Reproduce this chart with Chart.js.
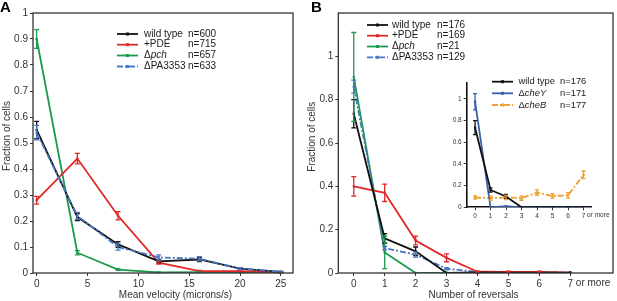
<!DOCTYPE html>
<html>
<head>
<meta charset="utf-8">
<script src="https://cdn.jsdelivr.net/npm/chart.js@4.4.0/dist/chart.umd.min.js"></script>
<style>
  body { margin: 0; background: #fff; width: 617px; height: 301px; position: relative; overflow: hidden; }
  canvas { position: absolute; }
  #chart-a { left: 0; top: 0; }
  #chart-b { left: 305px; top: 0; }
  #chart-inset { left: 440px; top: 70px; }
</style>
</head>
<body>
<canvas id="chart-a" width="305" height="301"></canvas>
<canvas id="chart-b" width="312" height="301"></canvas>
<canvas id="chart-inset" width="177" height="155"></canvas>
<script>
// ---- Panel A: mean velocity ----
const velX = [0, 4, 8, 12, 16, 20, 24];
const velTickVals = [0, 5, 10, 15, 20, 24];
const velTickLabels = ['0', '5', '10', '15', '20', '25'];
const fracTicksA = [0, 0.1, 0.2, 0.3, 0.4, 0.5, 0.6, 0.7, 0.8, 0.9, 1];
const fracLabelsA = ['0', '0.1', '0.2', '0.3', '0.4', '0.5', '0.6', '0.7', '0.8', '0.9', '1'];

const wtA = [0.55, 0.215, 0.11, 0.045, 0.052, 0.017, 0.004];
const wtAErr = [0.033, 0.013, 0.011, 0.007, 0.008, 0.004, 0.002];
const pdeA = [0.28, 0.44, 0.22, 0.04, 0.007, 0.007, 0.003];
const pdeAErr = [0.015, 0.02, 0.016, 0.006, 0.003, 0.003, 0.002];
const pchA = [0.90, 0.078, 0.013, 0.002, 0.003, 0.001, 0.0];
const pchAErr = [0.036, 0.008, 0.003, 0.001, 0.001, 0, 0];
const paA = [0.54, 0.22, 0.10, 0.06, 0.055, 0.017, 0.004];
const paAErr = [0.028, 0.013, 0.012, 0.01, 0.008, 0.004, 0.002];
const namesA = ['wild type', '+PDE', 'Δpch', 'ΔPA3353'];
const countsA = ['n=600', 'n=715', 'n=657', 'n=633'];

// ---- Panel B: number of reversals ----
const revX = [0, 1, 2, 3, 4, 5, 6, 7];
const revTickLabels = ['0', '1', '2', '3', '4', '5', '6', '7'];
const fracTicksB = [0, 0.2, 0.4, 0.6, 0.8, 1];
const fracLabelsB = ['0', '0.2', '0.4', '0.6', '0.8', '1'];

const wtB = [0.735, 0.16, 0.10, 0.0, 0.003, 0.002, 0.002, 0.002];
const wtBErr = [0.065, 0.022, 0.02, 0, 0.002, 0, 0, 0];
const pdeB = [0.40, 0.37, 0.15, 0.07, 0.006, 0.005, 0.005, 0.002];
const pdeBErr = [0.045, 0.04, 0.02, 0.018, 0.003, 0.003, 0.003, 0];
const pchB = [0.905, 0.095, 0, 0, 0, 0, 0, 0];
const pchBErr = [0.205, 0.075, 0, 0, 0, 0, 0, 0];
const paB = [0.86, 0.115, 0.085, 0.02, 0.005, 0.003, 0.003, 0.002];
const paBErr = [0.03, 0.008, 0.012, 0.005, 0, 0, 0, 0];
const namesB = ['wild type', '+PDE', 'Δpch', 'ΔPA3353'];
const countsB = ['n=176', 'n=169', 'n=21', 'n=129'];

// ---- Inset: che mutants ----
const fracTicksI = [0, 0.2, 0.4, 0.6, 0.8, 1];
const fracLabelsI = ['0', '0.2', '0.4', '0.6', '0.8', '1'];
const wtI = [0.735, 0.16, 0.10, 0.0, 0, 0, 0, 0];
const wtIErr = [0.065, 0.02, 0.02, 0, 0, 0, 0, 0];
const cheY = [0.975, 0.0, 0.01, 0, 0, 0, 0, 0];
const cheYErr = [0.075, 0, 0, 0, 0, 0, 0, 0];
const cheB = [0.09, 0.085, 0.09, 0.085, 0.135, 0.105, 0.11, 0.30];
const cheBErr = [0.015, 0.02, 0.02, 0.02, 0.025, 0.02, 0.025, 0.035];
const namesI = ['wild type', 'ΔcheY', 'ΔcheB'];
const countsI = ['n=176', 'n=171', 'n=177'];

const FONT = '"Liberation Sans", Arial, sans-serif';
const BLACK = '#111111', RED = '#e02828', GREEN = '#1b9a4e', BLUE = '#4a78c0', BLUE2 = '#3a5fae', ORANGE = '#f0a030';
const DASHDOT = [6, 2, 2, 2];

const pts = (xs, ys) => xs.map((x, i) => ({ x, y: ys[i] }));

function series(label, xs, ys, err, color, opts = {}) {
  return {
    label,
    data: pts(xs, ys),
    err,
    borderColor: color,
    backgroundColor: color,
    borderWidth: 1.8,
    borderDash: opts.dash || [],
    pointStyle: 'rect',
    pointRadius: 1.6,
    pointBorderWidth: 0,
    order: opts.order || 0,
    tension: 0
  };
}

// error bars drawn from the dataset err arrays via the scales
const errorBars = {
  id: 'errorBars',
  afterDatasetsDraw(chart, args, opts) {
    const ctx = chart.ctx;
    const xs = chart.scales.x, ys = chart.scales.y;
    const cap = opts.cap || 2.5;
    chart.data.datasets.forEach(ds => {
      if (!ds.err) return;
      ctx.save();
      ctx.strokeStyle = ds.borderColor;
      ctx.lineWidth = opts.width || 1.3;
      ctx.setLineDash([]);
      ds.data.forEach((p, j) => {
        const e = ds.err[j];
        if (!e) return;
        const x = xs.getPixelForValue(p.x);
        const y1 = ys.getPixelForValue(p.y - e);
        const y2 = ys.getPixelForValue(p.y + e);
        ctx.beginPath();
        ctx.moveTo(x, y1); ctx.lineTo(x, y2);
        ctx.moveTo(x - cap, y1); ctx.lineTo(x + cap, y1);
        ctx.moveTo(x - cap, y2); ctx.lineTo(x + cap, y2);
        ctx.stroke();
      });
      ctx.restore();
    });
  }
};

function drawName(ctx, name, x, y, size) {
  // italic gene names: Δ + lowercase gene
  if (name[0] === 'Δ' && /[a-z]/.test(name[1])) {
    ctx.font = size + 'px ' + FONT;
    ctx.fillText('Δ', x, y);
    const w = ctx.measureText('Δ').width;
    ctx.font = 'italic ' + size + 'px ' + FONT;
    ctx.fillText(name.slice(1), x + w, y);
  } else {
    ctx.font = size + 'px ' + FONT;
    ctx.fillText(name, x, y);
  }
}

function drawLegend(ctx, cfg) {
  const size = cfg.size || 10;
  cfg.names.forEach((name, k) => {
    const y = cfg.rows[k];
    const st = cfg.styles[k];
    ctx.save();
    ctx.strokeStyle = st.color;
    ctx.lineWidth = 1.8;
    ctx.setLineDash(st.dash || []);
    ctx.beginPath();
    ctx.moveTo(cfg.x, y); ctx.lineTo(cfg.x + 21, y);
    ctx.stroke();
    ctx.setLineDash([]);
    ctx.fillStyle = st.color;
    ctx.fillRect(cfg.x + 9, y - 1.5, 3, 3);
    ctx.fillStyle = '#1a1a1a';
    ctx.textBaseline = 'middle';
    drawName(ctx, name, cfg.textX, y, size);
    ctx.font = size + 'px ' + FONT;
    ctx.fillText(cfg.counts[k], cfg.nX, y);
    ctx.restore();
  });
}

const frame = {
  id: 'frame',
  afterDraw(chart, args, opts) {
    const ctx = chart.ctx;
    const a = chart.chartArea;
    ctx.save();
    if (opts.box) {
      ctx.strokeStyle = '#333';
      ctx.lineWidth = 1.3;
      ctx.strokeRect(a.left, a.top, a.right - a.left, a.bottom - a.top);
    }
    if (opts.letter) {
      ctx.fillStyle = '#000';
      ctx.font = 'bold 15px ' + FONT;
      ctx.textBaseline = 'alphabetic';
      ctx.fillText(opts.letter, opts.letterX, 12);
    }
    if (opts.moreSize) {
      const xs = chart.scales.x;
      const x = xs.getPixelForValue(7);
      ctx.font = opts.moreSize + 'px ' + FONT;
      ctx.fillStyle = '#333';
      ctx.textBaseline = 'top';
      ctx.textAlign = 'left';
      const w = ctx.measureText('7').width;
      ctx.fillText(' or more', x + w / 2, xs.top + opts.moreOffset);
    }
    // axis titles
    (opts.titles || []).forEach(t => {
      ctx.save();
      ctx.font = '10px ' + FONT;
      ctx.fillStyle = '#333';
      ctx.textAlign = 'center';
      ctx.textBaseline = 'middle';
      ctx.translate(t.x, t.y);
      if (t.vertical) ctx.rotate(-Math.PI / 2);
      ctx.fillText(t.text, 0, 0);
      ctx.restore();
    });
    if (opts.legend) drawLegend(ctx, opts.legend);
    ctx.restore();
  }
};

function fixedTicks(vals) {
  return axis => { axis.ticks = vals.map(v => ({ value: v })); };
}

function axisBase(fontSize) {
  return {
    border: { display: false },
    grid: { drawOnChartArea: false, drawTicks: true, tickLength: 3, color: '#333', lineWidth: 1 },
    ticks: { color: '#333', font: { family: FONT, size: fontSize }, autoSkip: false, maxRotation: 0, padding: 2 }
  };
}

// ---- chart A ----
const axA = axisBase(10), ayA = axisBase(10);
new Chart(document.getElementById('chart-a'), {
  type: 'line',
  data: {
    datasets: [
      series('wild type', velX, wtA, wtAErr, BLACK, { order: 1 }),
      series('+PDE', velX, pdeA, pdeAErr, RED, { order: 2 }),
      series('Δpch', velX, pchA, pchAErr, GREEN, { order: 3 }),
      series('ΔPA3353', velX, paA, paAErr, BLUE, { order: 0, dash: DASHDOT })
    ]
  },
  options: {
    responsive: false,
    animation: false,
    layout: { padding: { left: 0, top: 13, right: 12, bottom: 0 } },
    plugins: {
      legend: { display: false },
      tooltip: { enabled: false },
      frame: {
        box: true, letter: 'A', letterX: 0,
        titles: [
          { text: 'Mean velocity (microns/s)', x: 175.5, y: 295 },
          { text: 'Fraction of cells', x: 7, y: 136, vertical: true }
        ],
        legend: {
          names: namesA, counts: countsA,
          styles: [{ color: BLACK }, { color: RED }, { color: GREEN }, { color: BLUE, dash: DASHDOT }],
          x: 117, textX: 144, nX: 188, rows: [34, 44.7, 55.5, 66.5]
        }
      },
      errorBars: {}
    },
    scales: {
      x: {
        type: 'linear', min: -0.36, max: 25.2,
        ...axA,
        ticks: { ...axA.ticks, callback: (v, i) => velTickLabels[i] },
        afterBuildTicks: fixedTicks(velTickVals),
        afterFit: s => { s.height = 28; }
      },
      y: {
        type: 'linear', min: 0, max: 1,
        ...ayA,
        ticks: { ...ayA.ticks, callback: (v, i) => fracLabelsA[i] },
        afterBuildTicks: fixedTicks(fracTicksA),
        afterFit: s => { s.width = 33; }
      }
    }
  },
  plugins: [errorBars, frame]
});

// ---- chart B ----
const axB = axisBase(10), ayB = axisBase(10);
new Chart(document.getElementById('chart-b'), {
  type: 'line',
  data: {
    datasets: [
      series('wild type', revX, wtB, wtBErr, BLACK, { order: 0 }),
      series('+PDE', revX, pdeB, pdeBErr, RED, { order: 1 }),
      series('Δpch', revX, pchB, pchBErr, GREEN, { order: 3 }),
      series('ΔPA3353', revX, paB, paBErr, BLUE, { order: 2, dash: DASHDOT })
    ]
  },
  options: {
    responsive: false,
    animation: false,
    layout: { padding: { left: 0, top: 13, right: 2, bottom: 0 } },
    plugins: {
      legend: { display: false },
      tooltip: { enabled: false },
      frame: {
        box: true, letter: 'B', letterX: 6, moreSize: 10, moreOffset: 5,
        titles: [
          { text: 'Number of reversals', x: 168.5, y: 295 },
          { text: 'Fraction of cells', x: 7, y: 136.7, vertical: true }
        ],
        legend: {
          names: namesB, counts: countsB,
          styles: [{ color: BLACK }, { color: RED }, { color: GREEN }, { color: BLUE, dash: DASHDOT }],
          x: 62, textX: 87, nX: 132, rows: [25, 35.7, 46.5, 57.3]
        }
      },
      errorBars: {}
    },
    scales: {
      x: {
        type: 'linear', min: -0.5, max: 8.38,
        ...axB,
        ticks: { ...axB.ticks, callback: (v, i) => revTickLabels[i] },
        afterBuildTicks: fixedTicks(revX),
        afterFit: s => { s.height = 28; }
      },
      y: {
        type: 'linear', min: 0, max: 1.2,
        ...ayB,
        ticks: { ...ayB.ticks, callback: (v, i) => fracLabelsB[i] },
        afterBuildTicks: fixedTicks(fracTicksB),
        afterFit: s => { s.width = 33.3; }
      }
    }
  },
  plugins: [errorBars, frame]
});

// ---- inset ----
const axI = axisBase(6.5), ayI = axisBase(6.5);
const insetBorder = { display: true, color: '#111', width: 1.6 };
new Chart(document.getElementById('chart-inset'), {
  type: 'line',
  data: {
    datasets: [
      series('wild type', revX, wtI, wtIErr, BLACK, { order: 0 }),
      series('ΔcheY', revX, cheY, cheYErr, BLUE2, { order: 1 }),
      series('ΔcheB', revX, cheB, cheBErr, ORANGE, { order: 2, dash: DASHDOT })
    ]
  },
  options: {
    responsive: false,
    animation: false,
    layout: { padding: { left: 0, top: 12.7, right: 25.3, bottom: 0 } },
    plugins: {
      legend: { display: false },
      tooltip: { enabled: false },
      frame: {
        moreSize: 6.5, moreOffset: 5,
        legend: {
          names: namesI, counts: countsI, size: 9.4,
          styles: [{ color: BLACK }, { color: BLUE2 }, { color: ORANGE, dash: DASHDOT }],
          x: 52, textX: 78.5, nX: 120, rows: [11.7, 23.3, 35]
        }
      },
      errorBars: { cap: 2 }
    },
    scales: {
      x: {
        type: 'linear', min: -0.54, max: 7.53,
        ...axI,
        border: insetBorder,
        ticks: { ...axI.ticks, callback: (v, i) => revTickLabels[i] },
        afterBuildTicks: fixedTicks(revX),
        afterFit: s => { s.height = 17.7; }
      },
      y: {
        type: 'linear', min: 0, max: 1.15,
        ...ayI,
        border: insetBorder,
        ticks: { ...ayI.ticks, callback: (v, i) => fracLabelsI[i] },
        afterBuildTicks: fixedTicks(fracTicksI),
        afterFit: s => { s.width = 26.7; }
      }
    }
  },
  plugins: [errorBars, frame]
});
</script>
</body>
</html>
